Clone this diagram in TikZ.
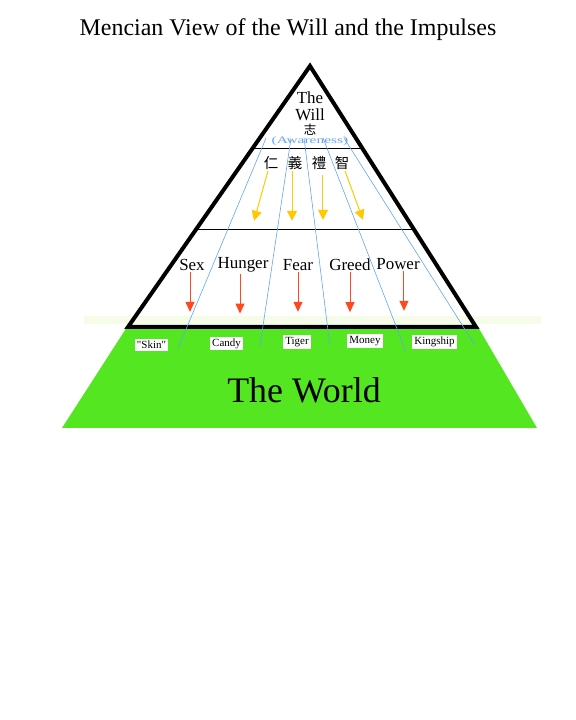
\documentclass[tikz,border=0pt]{standalone}
\usepackage{fontspec}
\setmainfont{Liberation Serif}[Ligatures=TeXOff]
\newfontfamily\cjk{Noto Sans CJK TC}
\usetikzlibrary{arrows.meta}
\usetikzlibrary{calc}
\definecolor{worldgreen}{RGB}{83,230,33}
\definecolor{haze}{RGB}{245,252,232}
\definecolor{sightblue}{RGB}{100,165,240}
\definecolor{virtue}{RGB}{255,200,0}
\definecolor{urge}{RGB}{255,72,30}

\begin{document}
\begin{tikzpicture}[x=1bp,y=1bp,
  impulse/.style={font=\fontsize{17}{17}\selectfont,inner sep=1pt},
  thing/.style={fill=white,font=\fontsize{11}{11}\selectfont,inner sep=2pt},
  sight/.style={draw=sightblue,line width=0.6bp},
  virtuearrow/.style={draw=virtue,line width=1bp,-{Triangle[width=10bp,length=10bp]}},
  urgearrow/.style={draw=urge,line width=1bp,-{Triangle[width=9bp,length=10bp]}}]
\useasboundingbox (0,0) rectangle (576,720);
\node[font=\fontsize{24}{24}\selectfont] (title) at (288,690) {Mencian View of the Will and the Impulses};

\fill[haze] (84,396) rectangle (541,404);
\fill[worldgreen] (127,393) -- (478,393) -- (537,292) -- (62,292) -- cycle;
\node[font=\fontsize{36}{36}\selectfont] (world) at (304,330) {The World};

\coordinate (top) at (310,654);
\coordinate (bl) at (128,393);
\coordinate (br) at (476,393);
\draw[line width=0.8bp] ($(top)!0.314!(bl)$) -- ($(top)!0.314!(br)$);
\draw[line width=0.8bp] ($(top)!0.6245!(bl)$) -- ($(top)!0.6245!(br)$);
\draw[line width=4bp,line join=miter] (top) -- (bl) -- (br) -- cycle;

\node[font=\fontsize{17}{17}\selectfont,align=center,inner sep=0pt] (will) at (310,614) {The\\Will};
\node[font=\cjk\fontsize{12.5}{12.5}\selectfont,inner sep=0pt] (intent) at (310,590) {志};
\node[font=\fontsize{10}{10}\selectfont,text=sightblue,inner sep=1pt] (aware) at (310,578.5) {\scalebox{1.55}[1]{(Awareness)}};

\node[font=\cjk\fontsize{14.5}{14.5}\selectfont,inner sep=1pt] (ren) at (271,557) {仁};
\node[font=\cjk\fontsize{14.5}{14.5}\selectfont,inner sep=1pt] (yi) at (295,557) {義};
\node[font=\cjk\fontsize{14.5}{14.5}\selectfont,inner sep=1pt] (li) at (319,557) {禮};
\node[font=\cjk\fontsize{14.5}{14.5}\selectfont,inner sep=1pt] (zhi) at (342,557) {智};
\draw[virtuearrow] ([xshift=-3]ren.south) -- ++(-14,-50);
\draw[virtuearrow] ([xshift=-3]yi.south) -- ++(0,-50);
\draw[virtuearrow] ([xshift=4,yshift=-4]li.south) -- ++(0,-45);
\draw[virtuearrow] ([xshift=3]zhi.south) -- ++(18,-49);

\node[impulse] (sex) at (192,455) {Sex};
\node[impulse] (hunger) at (243,455) {Hunger};
\node[impulse] (fear) at (298,455) {Fear};
\node[impulse] (greed) at (350,455) {Greed};
\node[impulse] (power) at (398,456) {Power};
\draw[urgearrow] ([xshift=-2]sex.south) -- ++(0,-40);
\draw[urgearrow] ([xshift=-3]hunger.south) -- ++(0,-40);
\draw[urgearrow] (fear.south) -- ++(0,-40);
\draw[urgearrow] (greed.south) -- ++(0,-40);
\draw[urgearrow] ([xshift=6]power.south) -- ++(0,-40);

\node[thing] (skin) at (151.5,375) {"Skin"};
\node[thing] (candy) at (226.5,376.5) {Candy};
\node[thing] (tiger) at (297,378) {Tiger};
\node[thing] (money) at (365,379) {Money};
\node[thing] (kingship) at (434.5,378) {Kingship};

\draw[sight] ([xshift=-44,yshift=-2]aware.north) -- ([xshift=10,yshift=-3]skin.east);
\draw[sight] ([xshift=-19,yshift=-2]aware.north) -- ([xshift=17,yshift=-3]candy.east);
\draw[sight] ([xshift=-6,yshift=-2]aware.north) -- ([xshift=19,yshift=-3]tiger.east);
\draw[sight] ([xshift=13,yshift=-2]aware.north) -- ([xshift=23,yshift=-10]money.east);
\draw[sight] ([xshift=34,yshift=-2]aware.north) -- ([xshift=18,yshift=-3]kingship.east);
\end{tikzpicture}
\end{document}
